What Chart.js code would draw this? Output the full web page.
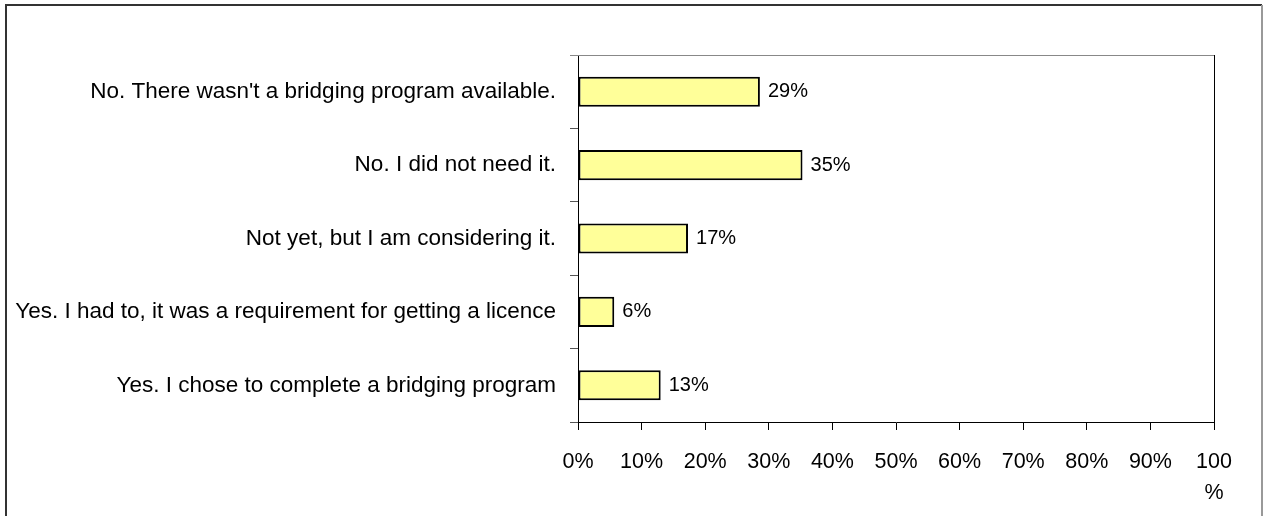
<!DOCTYPE html>
<html>
<head>
<meta charset="utf-8">
<script src="https://cdn.jsdelivr.net/npm/chart.js@4.4.1/dist/chart.umd.min.js"></script>
<style>
    html, body { margin: 0; padding: 0; background: #fff; }
</style>
</head>
<body>
<canvas id="chart" width="1264" height="516"></canvas>
<script>
// Data -----------------------------------------------------------------------------------

var CATEGORIES = [
    "No. There wasn't a bridging program available.",
    'No. I did not need it.',
    'Not yet, but I am considering it.',
    'Yes. I had to, it was a requirement for getting a licence',
    'Yes. I chose to complete a bridging program'
];

var VALUES = [28.6, 35.3, 17.3, 5.7, 13.0];

var VALUE_LABELS = ['29%', '35%', '17%', '6%', '13%'];

var X_TICK_LABELS = ['0%', '10%', '20%', '30%', '40%', '50%', '60%', '70%', '80%', '90%', ['100', '%']];

// Constants ------------------------------------------------------------------------------

var FONT_FAMILY = '"Liberation Sans", Arial, sans-serif';
var BAR_FILL = '#FFFF99';
var BAR_BORDER = '#000000';

// Plugins --------------------------------------------------------------------------------

var framePlugin = {
    id: 'frame',
    beforeDraw: function (chart) {
        var ctx = chart.ctx;
        ctx.save();
        ctx.fillStyle = '#fff';
        ctx.fillRect(0, 0, chart.width, chart.height);

        // outer frame
        ctx.lineWidth = 2;
        ctx.strokeStyle = '#333';
        ctx.beginPath();
        ctx.moveTo(6, 516);
        ctx.lineTo(6, 5);
        ctx.lineTo(1262, 5);
        ctx.stroke();
        ctx.strokeStyle = '#999';
        ctx.beginPath();
        ctx.moveTo(1262, 5);
        ctx.lineTo(1262, 516);
        ctx.stroke();
        ctx.restore();
    },
    afterDraw: function (chart) {
        var ctx = chart.ctx;
        var area = chart.chartArea;
        ctx.save();
        ctx.lineWidth = 1;
        ctx.strokeStyle = '#888';
        ctx.beginPath();
        ctx.moveTo(area.left - 8, area.top + 0.5);
        ctx.lineTo(area.right, area.top + 0.5);
        ctx.stroke();
        ctx.strokeStyle = '#000';
        ctx.beginPath();
        ctx.moveTo(area.right + 0.5, area.top);
        ctx.lineTo(area.right + 0.5, area.bottom + 8);
        ctx.stroke();
        ctx.restore();
    }
};

var valueLabelPlugin = {
    id: 'valueLabels',
    afterDatasetsDraw: function (chart) {
        var ctx = chart.ctx;
        var meta = chart.getDatasetMeta(0);
        ctx.save();
        ctx.font = '20px ' + FONT_FAMILY;
        ctx.fillStyle = '#000';
        ctx.textAlign = 'left';
        ctx.textBaseline = 'middle';
        meta.data.forEach(function (bar, i) {
            ctx.fillText(VALUE_LABELS[i], bar.x + 8, bar.y);
        });
        ctx.restore();
    }
};

// Chart ----------------------------------------------------------------------------------

var context = document.getElementById('chart').getContext('2d');

var chart = new Chart(context, {
    type: 'bar',
    data: {
        labels: CATEGORIES,
        datasets: [{
            data: VALUES,
            backgroundColor: BAR_FILL,
            borderColor: BAR_BORDER,
            borderWidth: 2,
            borderSkipped: false,
            barPercentage: 0.41,
            categoryPercentage: 1.0
        }]
    },
    options: {
        indexAxis: 'y',
        responsive: false,
        animation: false,
        devicePixelRatio: 1,
        layout: {
            padding: { left: 5, right: 50, top: 55, bottom: 0 }
        },
        plugins: {
            legend: { display: false },
            tooltip: { enabled: false }
        },
        scales: {
            x: {
                min: 0,
                max: 100,
                grid: {
                    drawOnChartArea: false,
                    drawTicks: true,
                    tickLength: 8,
                    color: '#000'
                },
                border: { color: '#000', width: 1 },
                ticks: {
                    stepSize: 10,
                    autoSkip: false,
                    maxRotation: 0,
                    padding: 16,
                    color: '#000',
                    font: { family: FONT_FAMILY, size: 21.5, lineHeight: 1.45 },
                    callback: function (value, index) {
                        return X_TICK_LABELS[index];
                    }
                },
                afterFit: function (scale) {
                    scale.height = 94;
                }
            },
            y: {
                grid: {
                    offset: true,
                    drawOnChartArea: false,
                    drawTicks: true,
                    tickLength: 8,
                    color: '#555'
                },
                border: { color: '#000', width: 1 },
                ticks: {
                    padding: 14,
                    color: '#000',
                    font: { family: FONT_FAMILY, size: 22.5 }
                },
                afterFit: function (scale) {
                    scale.width = 573;
                }
            }
        }
    },
    plugins: [framePlugin, valueLabelPlugin]
});
</script>
</body>
</html>
